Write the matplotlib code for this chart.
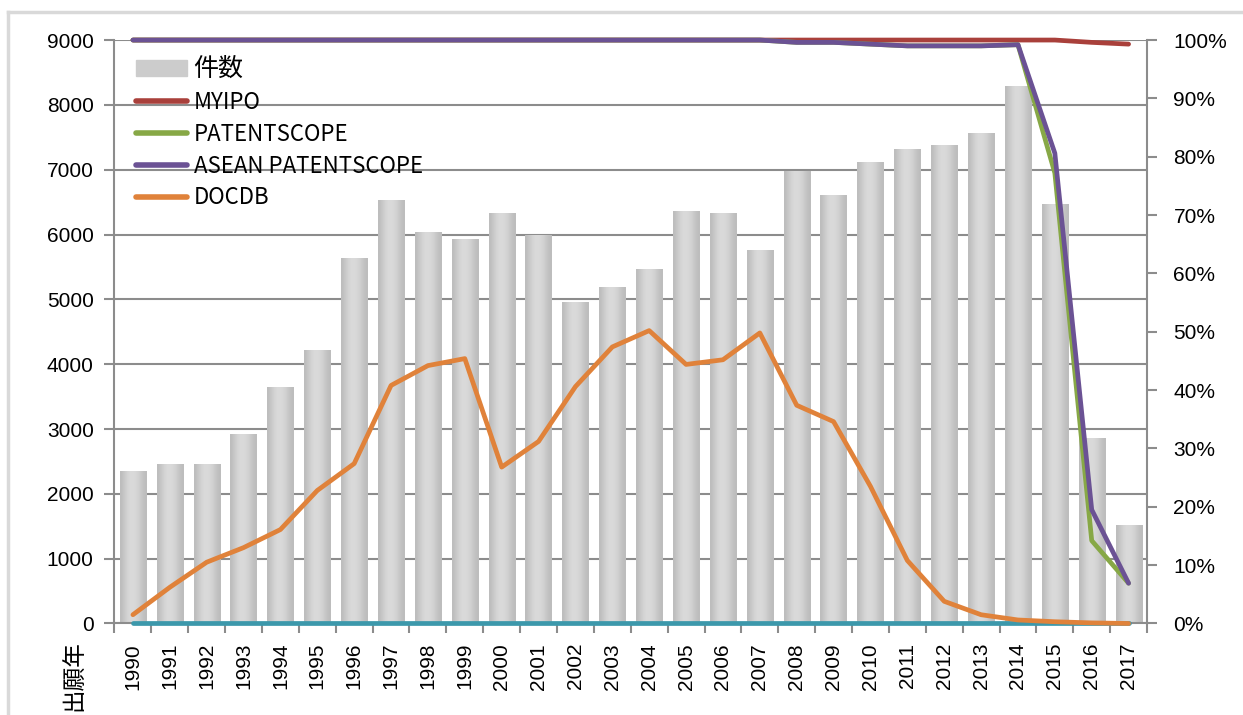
import numpy as np
import matplotlib
matplotlib.use("Agg")
import matplotlib.pyplot as plt
from matplotlib.ticker import PercentFormatter, FixedLocator
from matplotlib.patches import Patch
from matplotlib.lines import Line2D

plt.rcParams['font.family'] = ['Liberation Sans', 'Noto Sans CJK JP']

years = [str(y) for y in range(1990, 2018)]

# application counts (left axis)
counts = [2330, 2450, 2450, 2910, 3630, 4200, 5630, 6520, 6020, 5920,
          6320, 5985, 4950, 5170, 5460, 6350, 6320, 5740, 6970, 6600,
          7110, 7310, 7370, 7550, 8270, 6460, 2840, 1500]

# coverage ratios (right axis)
myipo = [1.0] * 26 + [0.996, 0.993]
patentscope = [1.0] * 18 + [0.996, 0.996, 0.993, 0.99, 0.99, 0.99, 0.992,
                            0.772, 0.142, 0.069]
asean = [1.0] * 18 + [0.996, 0.996, 0.993, 0.99, 0.99, 0.99, 0.992,
                      0.806, 0.195, 0.069]
docdb = [0.015, 0.062, 0.105, 0.13, 0.161, 0.228, 0.274, 0.408, 0.442, 0.454,
         0.268, 0.312, 0.406, 0.474, 0.502, 0.444, 0.452, 0.498, 0.374, 0.346,
         0.235, 0.108, 0.038, 0.015, 0.006, 0.003, 0.001, 0.0]
other = [0.0] * 28

grid_c = '#8c8c8c'
fig = plt.figure(figsize=(12.43, 7.15), dpi=100)
ax = fig.add_axes([0.0921, 0.128, 0.8307, 0.816])

x = np.arange(len(years))
bars = ax.bar(x, counts, width=0.71, color='#cccccc', zorder=2)

# cylinder-like shading on each bar
grad = np.array([[0.74, 0.78, 0.82, 0.85, 0.855, 0.85, 0.83, 0.80, 0.76, 0.74]])
for b in bars:
    ax.imshow(grad, cmap='gray', vmin=0, vmax=1, aspect='auto', zorder=2.1,
              extent=[b.get_x(), b.get_x() + b.get_width(), 0, b.get_height()],
              interpolation='bicubic')

ax.set_xlim(-0.5, len(years) - 0.5)
ax.set_ylim(0, 9000)
ax.set_yticks(np.arange(0, 9001, 1000))
ax.yaxis.grid(True, color=grid_c, lw=1.5, zorder=0)
ax.set_axisbelow(True)
ax.set_xticks(x)
ax.set_xticklabels(years, rotation=90, fontsize=15)
ax.xaxis.set_minor_locator(FixedLocator(np.arange(-0.5, len(years), 1)))
ax.tick_params(axis='x', which='major', length=0, pad=14)
ax.tick_params(axis='x', which='minor', length=7, color=grid_c, width=1.5)
ax.tick_params(axis='y', labelsize=15, length=7, color=grid_c, width=1.5, pad=8)
for s in ['top', 'right']:
    ax.spines[s].set_visible(False)
for s in ['left', 'bottom']:
    ax.spines[s].set_color(grid_c)
    ax.spines[s].set_linewidth(1.5)

ax2 = ax.twinx()
ax2.set_ylim(0, 1)
ax2.set_yticks(np.arange(0, 1.01, 0.1))
ax2.yaxis.set_major_formatter(PercentFormatter(1.0, decimals=0))
ax2.tick_params(axis='y', labelsize=15, length=7, color=grid_c, width=1.5, pad=12)
for s in ['top', 'left', 'bottom']:
    ax2.spines[s].set_visible(False)
ax2.spines['right'].set_color(grid_c)
ax2.spines['right'].set_linewidth(1.5)

lw = 3.4
ax2.plot(x, other, color='#3c98ab', lw=lw, solid_capstyle='round', clip_on=False)
ax2.plot(x, myipo, color='#a9403b', lw=lw, solid_capstyle='round', clip_on=False)
ax2.plot(x, patentscope, color='#87a846', lw=lw, solid_capstyle='round', clip_on=False)
ax2.plot(x, asean, color='#6b5294', lw=lw, solid_capstyle='round', clip_on=False)
ax2.plot(x, docdb, color='#e0823a', lw=lw, solid_capstyle='round', clip_on=False)

handles = [Patch(color='#cccccc', label='件数'),
           Line2D([], [], color='#a9403b', lw=4, solid_capstyle='round', label='MYIPO'),
           Line2D([], [], color='#87a846', lw=4, solid_capstyle='round', label='PATENTSCOPE'),
           Line2D([], [], color='#6b5294', lw=4, solid_capstyle='round', label='ASEAN PATENTSCOPE'),
           Line2D([], [], color='#e0823a', lw=4, solid_capstyle='round', label='DOCDB')]
leg = ax2.legend(handles=handles, loc='upper left', bbox_to_anchor=(0.012, 0.988),
                 frameon=False, handlelength=2.3, handletextpad=0.3,
                 labelspacing=0.4, borderaxespad=0,
                 prop={'family': ['Noto Sans CJK JP'], 'size': 16})
leg.get_texts()[0].set_fontsize(18)

fig.text(75 / 1243, 1 - 640 / 715, '出願年', rotation=90, va='top', ha='center',
         fontsize=17, family=['Noto Sans CJK JP'])

# light chart frame, as in the spreadsheet export
fig.add_artist(Line2D([8 / 1243, 8 / 1243], [0, 1 - 12 / 715], transform=fig.transFigure,
                      color='#d9d9d9', lw=2.5))
fig.add_artist(Line2D([8 / 1243, 1], [1 - 12 / 715, 1 - 12 / 715], transform=fig.transFigure,
                      color='#d9d9d9', lw=2.5))

fig.savefig('out.png', dpi=100)
